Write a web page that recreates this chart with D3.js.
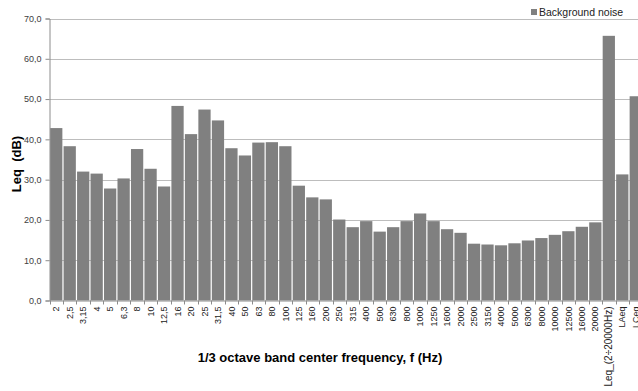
<!DOCTYPE html>
<html>
<head>
<meta charset="utf-8">
<script src="https://cdn.jsdelivr.net/npm/d3@7"></script>
<style>
  body { margin: 0; background: #fff; }
  svg { display: block; font-family: "Liberation Sans", Arial, sans-serif; }
</style>
</head>
<body>
<div id="chart"></div>
<script>
// 1/3 octave bands + overall levels
const categories = ["2", "2,5", "3,15", "4", "5", "6,3", "8", "10", "12,5", "16", "20", "25", "31,5",
  "40", "50", "63", "80", "100", "125", "160", "200", "250", "315", "400", "500", "630", "800",
  "1000", "1250", "1600", "2000", "2500", "3150", "4000", "5000", "6300", "8000", "10000",
  "12500", "16000", "20000", "Leq_(2÷20000Hz)", "LAeq", "LCeq"];

const backgroundNoise = [42.8, 38.3, 32.0, 31.5, 27.8, 30.3, 37.6, 32.7, 28.3, 48.3, 41.3, 47.4, 44.7,
  37.8, 36.0, 39.2, 39.3, 38.3, 28.5, 25.6, 25.1, 20.1, 18.2, 19.7, 17.1, 18.2, 19.7,
  21.6, 19.7, 17.7, 16.8, 14.1, 13.9, 13.7, 14.2, 14.9, 15.5, 16.3,
  17.2, 18.3, 19.4, 65.7, 31.3, 50.7];

const yTicks = [0, 10, 20, 30, 40, 50, 60, 70];

const width = 638, height = 391;
const plot = {left: 49.5, right: 642.5, top: 18.5, bottom: 300.5};
const font = "'Liberation Sans', Arial, sans-serif";

const svg = d3.select("#chart").append("svg")
  .attr("width", width)
  .attr("height", height);

const x = d3.scaleBand()
  .domain(categories)
  .range([plot.left, plot.right])
  .paddingInner(0.09)
  .paddingOuter(0.045);

const y = d3.scaleLinear()
  .domain([0, 70])
  .range([plot.bottom, plot.top]);

// gridlines
svg.append("g")
  .selectAll("line")
  .data(yTicks.filter(d => d > 0))
  .enter()
  .append("line")
  .attr("x1", plot.left)
  .attr("x2", plot.right)
  .attr("y1", d => Math.round(y(d)) + 0.5)
  .attr("y2", d => Math.round(y(d)) + 0.5)
  .style("stroke", "#bdbdbd")
  .style("stroke-width", 1);

// bars
svg.append("g")
  .selectAll("rect")
  .data(categories)
  .enter()
  .append("rect")
  .attr("x", d => x(d))
  .attr("width", x.bandwidth())
  .attr("y", (d, i) => y(backgroundNoise[i]))
  .attr("height", (d, i) => plot.bottom - y(backgroundNoise[i]))
  .style("fill", "#808080");

// y axis
const yAxis = svg.append("g")
  .attr("transform", "translate(" + plot.left + ",0)")
  .call(d3.axisLeft(y).tickValues(yTicks).tickSize(4).tickPadding(4)
    .tickFormat(d => d3.format(".1f")(d).replace(".", ",")));
yAxis.attr("font-family", font);
yAxis.select(".domain").style("stroke", "#8c8c8c");
yAxis.selectAll(".tick line").style("stroke", "#8c8c8c");
yAxis.selectAll(".tick text")
  .style("font-size", "9px")
  .style("fill", "#404040");

// x axis
const xAxis = svg.append("g")
  .attr("transform", "translate(0," + plot.bottom + ")")
  .call(d3.axisBottom(x).tickSize(0).tickPadding(0));
xAxis.attr("font-family", font);
xAxis.select(".domain").style("stroke", "#8c8c8c");
xAxis.selectAll(".tick text")
  .attr("transform", "rotate(-90)")
  .attr("x", -6)
  .attr("y", 0)
  .attr("dy", "0.35em")
  .style("text-anchor", "end")
  .style("font-size", d => d.length > 10 ? "10px" : "9px")
  .style("fill", "#222");

// x tick marks at band boundaries
svg.append("g")
  .selectAll("line")
  .data(d3.range(categories.length + 1))
  .enter()
  .append("line")
  .attr("x1", i => Math.round(plot.left + i * x.step()) + 0.5)
  .attr("x2", i => Math.round(plot.left + i * x.step()) + 0.5)
  .attr("y1", plot.bottom)
  .attr("y2", plot.bottom + 4)
  .style("stroke", "#8c8c8c");

// axis titles
svg.append("text")
  .attr("transform", "translate(21,164) rotate(-90)")
  .attr("text-anchor", "middle")
  .style("font-size", "13px")
  .style("font-weight", "bold")
  .style("white-space", "pre")
  .text("Leq  (dB)");

svg.append("text")
  .attr("x", 320)
  .attr("y", 362)
  .attr("text-anchor", "middle")
  .style("font-size", "13px")
  .style("font-weight", "bold")
  .text("1/3 octave band center frequency, f (Hz)");

// legend
const legend = svg.append("g").attr("transform", "translate(531,8)");
legend.append("rect")
  .attr("width", 6)
  .attr("height", 6)
  .attr("y", 1)
  .style("fill", "#808080");
legend.append("text")
  .attr("x", 8)
  .attr("y", 8)
  .style("font-size", "10.5px")
  .style("fill", "#222")
  .text("Background noise");
</script>
</body>
</html>
